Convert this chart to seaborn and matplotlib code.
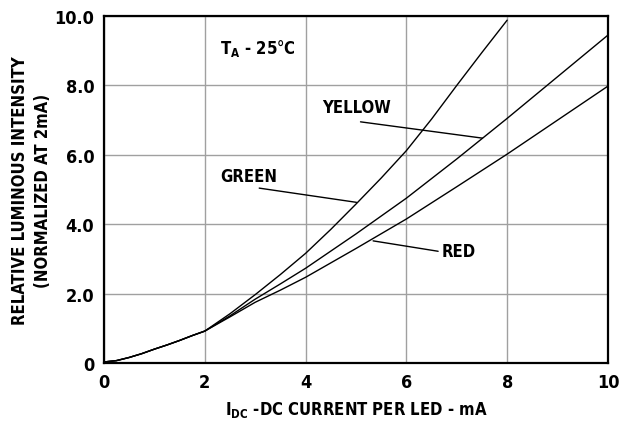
import numpy as np
import pandas as pd
import matplotlib
matplotlib.use("Agg")
import matplotlib.pyplot as plt
import seaborn as sns

# values
current_green = [0, 0.25, 0.5, 0.75, 1, 1.25, 1.5, 1.75, 2, 2.5, 3, 3.5, 4, 4.5, 5,
                 5.5, 6, 6.5, 7, 7.5, 8]
green = [0.03, 0.07, 0.16, 0.27, 0.40, 0.52, 0.65, 0.79, 0.92, 1.42, 1.97, 2.55, 3.16,
         3.85, 4.58, 5.33, 6.12, 7.03, 8.0, 8.95, 9.88]

current = [0, 0.25, 0.5, 0.75, 1, 1.25, 1.5, 1.75, 2, 2.5, 3, 3.5, 4, 5, 6, 7, 8, 9, 10]
yellow = [0.03, 0.07, 0.16, 0.27, 0.40, 0.52, 0.65, 0.79, 0.92, 1.36, 1.84, 2.28, 2.73,
          3.72, 4.75, 5.88, 7.05, 8.25, 9.45]
red = [0.03, 0.07, 0.16, 0.27, 0.40, 0.52, 0.65, 0.79, 0.92, 1.33, 1.75, 2.1, 2.47,
       3.3, 4.15, 5.08, 6.02, 7.0, 7.98]

xticks = [0, 2, 4, 6, 8, 10]
yticks = [0, 2, 4, 6, 8, 10]
ytick_labels = ["0", "2.0", "4.0", "6.0", "8.0", "10.0"]

sns.set_style("white")
plt.rcParams['font.family'] = ['DejaVu Sans']
plt.rcParams['font.stretch'] = 'condensed'
plt.rcParams['font.weight'] = 'bold'
plt.rcParams['mathtext.fontset'] = 'custom'
plt.rcParams['mathtext.rm'] = 'DejaVu Sans:weight=bold:stretch=condensed'
plt.rcParams['mathtext.it'] = 'DejaVu Sans:weight=bold:stretch=condensed'
plt.rcParams['mathtext.bf'] = 'DejaVu Sans:weight=bold:stretch=condensed'
for k in ['text.color', 'axes.labelcolor', 'xtick.color', 'ytick.color']:
    plt.rcParams[k] = 'black'

fig = plt.figure(figsize=(6.31, 4.27), dpi=100)
ax = fig.add_axes([0.1648, 0.1475, 0.7987, 0.8127])

for xs, ys in [(current_green, green), (current, yellow), (current, red)]:
    sns.lineplot(x=xs, y=ys, ax=ax, color="black", linewidth=1.0, sort=False,
                 estimator=None)

ax.set_xlim(0, 10)
ax.set_ylim(0, 10)
ax.set_xticks(xticks)
ax.set_yticks(yticks)
ax.set_yticklabels(ytick_labels)
ax.grid(True, color="#a0a0a0", linewidth=1.0)
ax.set_axisbelow(True)
ax.tick_params(length=0, labelsize=13, pad=7)
for s in ax.spines.values():
    s.set_color("black")
    s.set_linewidth(1.6)

ax.set_xlabel(r"$\mathregular{I_{DC}}$ -DC CURRENT PER LED - mA", fontsize=12,
              fontweight="bold", labelpad=6)
ax.set_ylabel("RELATIVE LUMINOUS INTENSITY\n(NORMALIZED AT 2mA)", fontsize=12,
              fontweight="bold", labelpad=2, linespacing=1.3)

ax.text(3.05, 9.1, r"$\mathregular{T_A}$ - 25°C", fontsize=12, ha="center", va="center")

# curve labels with leader lines
ax.text(2.88, 5.39, "GREEN", fontsize=12, ha="center", va="center")
ax.plot([3.08, 5.01], [5.04, 4.63], color="black", linewidth=1.0)
ax.text(5.02, 7.38, "YELLOW", fontsize=12, ha="center", va="center")
ax.plot([5.09, 7.51], [6.95, 6.48], color="black", linewidth=1.0)
ax.text(7.03, 3.23, "RED", fontsize=12, ha="center", va="center")
ax.plot([6.63, 5.34], [3.22, 3.52], color="black", linewidth=1.0)

fig.savefig("out.png", dpi=100)
